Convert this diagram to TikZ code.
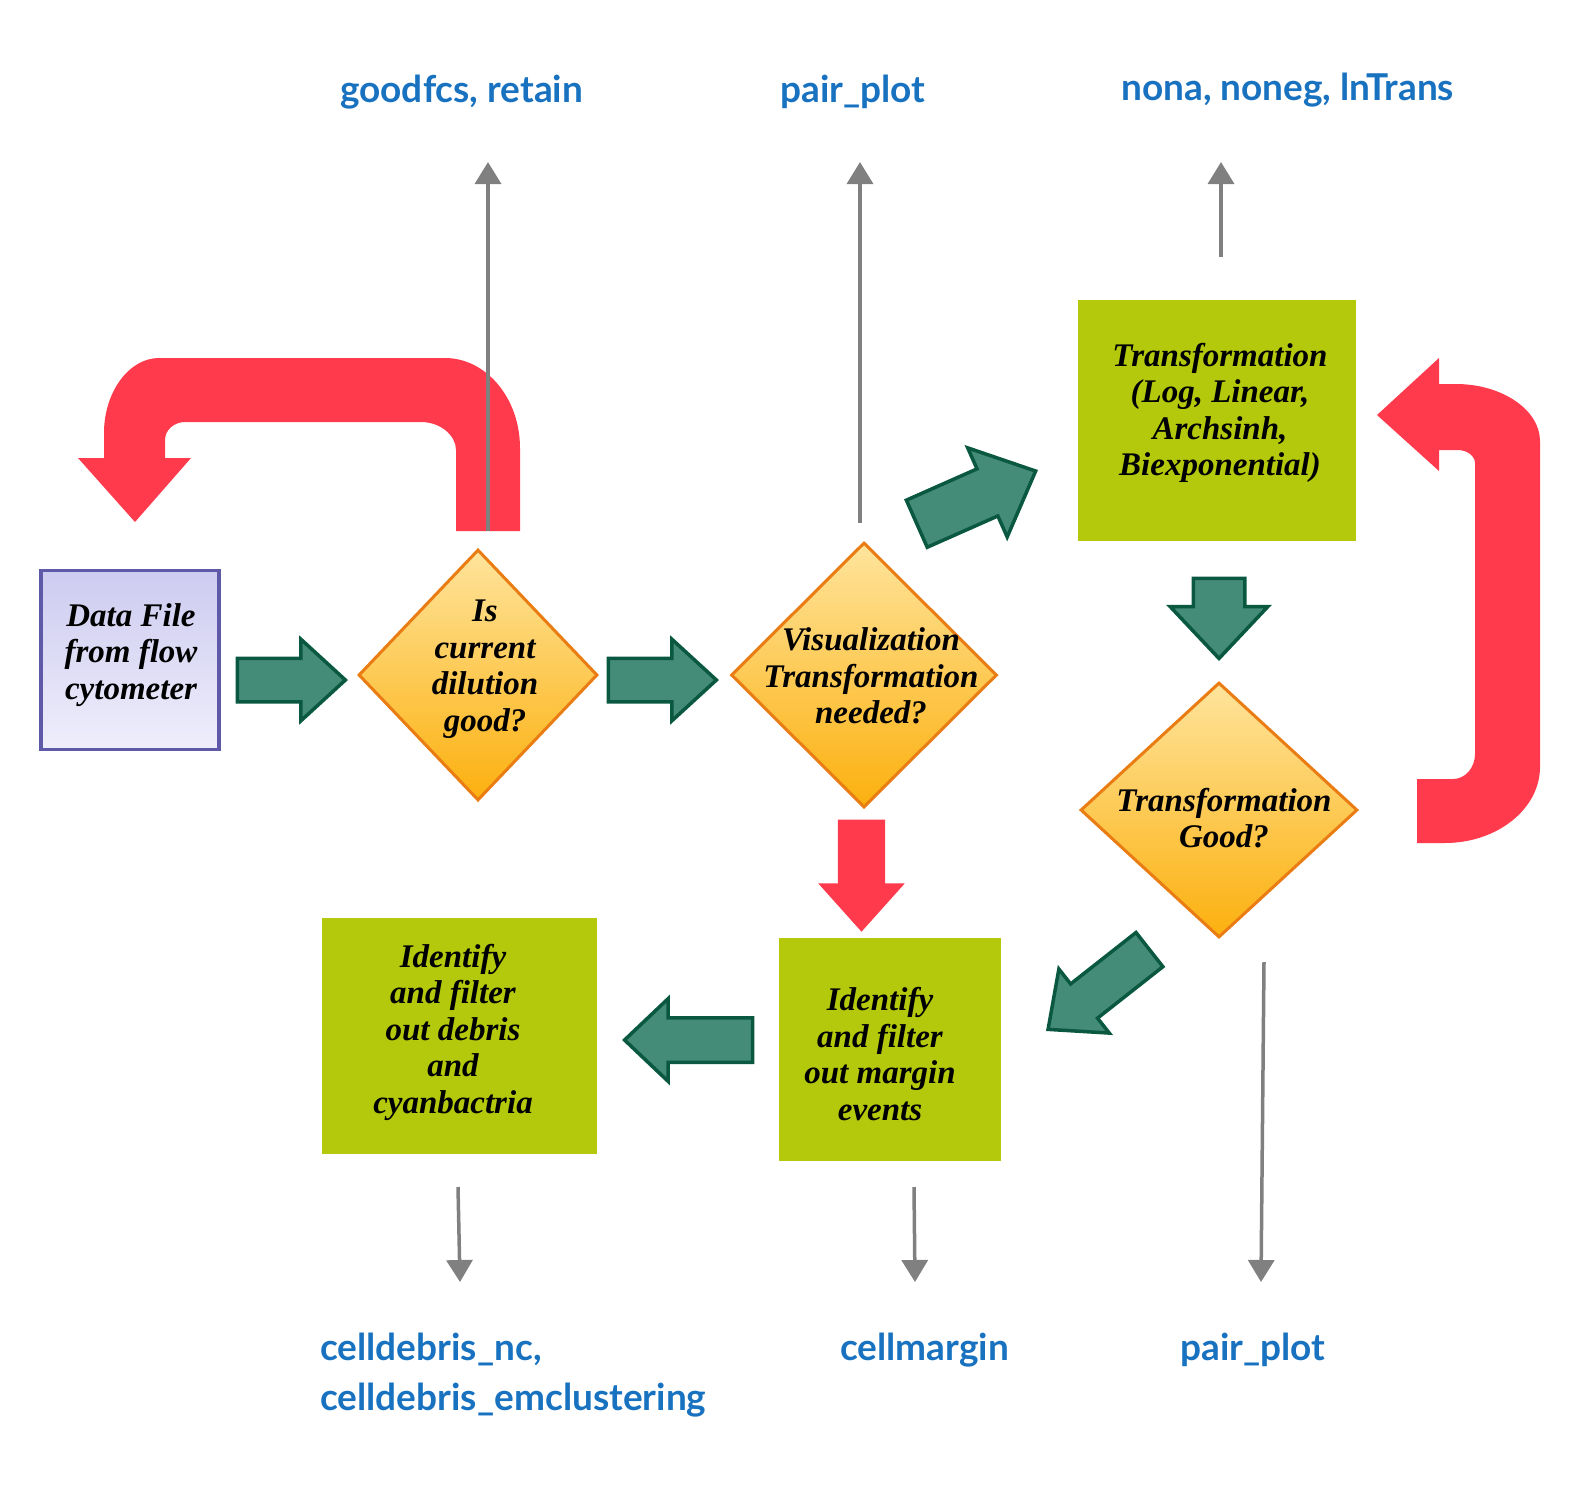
\documentclass[tikz,border=0pt]{standalone}
\usepackage{fontspec}
\newfontfamily\boxfont{Liberation Serif}
\newfontfamily\labelfont{Lato}
\usetikzlibrary{shapes.geometric,shapes.arrows,arrows.meta}
\definecolor{DataLine}{RGB}{94,90,168}
\definecolor{DataTop}{RGB}{205,203,240}
\definecolor{DataBot}{RGB}{239,238,251}
\definecolor{DecLine}{RGB}{234,124,20}
\definecolor{DecTop}{RGB}{254,228,156}
\definecolor{DecBot}{RGB}{252,176,14}
\definecolor{BoxClr}{RGB}{180,201,12}
\definecolor{ArrFill}{RGB}{68,140,120}
\definecolor{ArrLine}{RGB}{10,88,64}
\definecolor{RedClr}{RGB}{255,58,76}
\definecolor{GrayClr}{RGB}{128,128,128}
\definecolor{LblClr}{RGB}{24,114,192}

\begin{document}
\begin{tikzpicture}[x=1pt,y=-1pt,
  boxtext/.style={align=center,inner sep=0,font=\boxfont\bfseries\itshape\fontsize{33}{36.5}\selectfont},
  outlbl/.style={anchor=base west,align=left,inner sep=0,text=LblClr,font=\labelfont\bfseries\fontsize{37}{50}\selectfont},
  greenbox/.style={rectangle,fill=BoxClr,inner sep=0},
  decision/.style={diamond,draw=DecLine,line width=3pt,top color=DecTop,bottom color=DecBot,inner sep=0},
  garrow/.style={single arrow,draw=ArrLine,fill=ArrFill,line width=3.5pt,inner xsep=0,single arrow head indent=0,anchor=tip},
  rarrow/.style={single arrow,fill=RedClr,inner xsep=0,single arrow head indent=0,anchor=tip},
  gline/.style={draw=GrayClr,line width=3.5pt,-{Triangle[width=26pt,length=22pt]}}]
\useasboundingbox (0,0) rectangle (1580,1484);

% red loop arrows (drawn first, gray lines run over them)
\fill[RedClr] (456,531) -- (520,531) -- (520,448) .. controls (520,398) and (486,358) .. (445,358)
  -- (159,358) .. controls (129,358) and (104,392) .. (104,433) -- (104,458) -- (78,458) -- (135,522)
  -- (191,458) -- (165,458) -- (165,440) .. controls (165,430) and (174,422) .. (185,422)
  -- (421,422) .. controls (440,422) and (456,435) .. (456,450) -- cycle;
\fill[RedClr] (1417,779) -- (1453,779) .. controls (1465,779) and (1475,768) .. (1475,754)
  -- (1475,463) .. controls (1475,456) and (1467,450) .. (1458,450) -- (1439,450) -- (1439,471)
  -- (1377,415) -- (1439,358) -- (1439,384) -- (1456,384) .. controls (1502,384) and (1540,410) .. (1540,441)
  -- (1540,767) .. controls (1540,809) and (1497,843) .. (1445,843) -- (1417,843) -- cycle;

% boxes and decisions
\node[rectangle,draw=DataLine,line width=3.5pt,top color=DataTop,bottom color=DataBot,
  minimum width=178,minimum height=179] (datafile) at (130,660) {};
\node[decision,minimum width=239,minimum height=251] (dilution) at (478,675) {};
\node[decision,minimum width=266,minimum height=265] (visual) at (864,675) {};
\node[greenbox,minimum width=278,minimum height=241] (trans) at (1217,420.5) {};
\node[decision,minimum width=277,minimum height=255] (transgood) at (1219,810) {};
\node[greenbox,minimum width=222,minimum height=223] (margin) at (890,1049.5) {};
\node[greenbox,minimum width=275,minimum height=236] (debris) at (459.5,1036) {};

\node[boxtext] (datafiletxt) at (131,655) {Data File\\from flow\\cytometer};
\node[boxtext] (dilutiontxt) at (485,669) {Is\\current\\dilution\\good?};
\node[boxtext] (visualtxt) at (871,676) {Visualization\\Transformation\\needed?};
\node[boxtext] (transtxt) at (1220,413) {Transformation\\(Log, Linear,\\Archsinh,\\Biexponential)};
\node[boxtext] (transgoodtxt) at (1224,818) {Transformation\\Good?};
\node[boxtext] (margintxt) at (880,1054) {Identify\\and filter\\out margin\\events};
\node[boxtext] (debristxt) at (453,1032) {Identify\\and filter\\out debris\\and\\cyanbactria};

% block arrows, placed by their tips (inner ysep = half the shaft)
\node[garrow,inner ysep=20,minimum height=108,minimum width=79,single arrow head extend=19,single arrow tip angle=85] (arA) at (348,680) {};
\node[garrow,inner ysep=20,minimum height=108,minimum width=79,single arrow head extend=19,single arrow tip angle=85] (arB) at (719,680) {};
\node[garrow,inner ysep=24,minimum height=130,minimum width=95,single arrow head extend=23,single arrow tip angle=85.5,rotate=23.9] (arC) at (1038,470) {};
\node[garrow,inner ysep=24,minimum height=80,minimum width=95,single arrow head extend=23,single arrow tip angle=86.6,rotate=-90] (arD) at (1219,661) {};
\node[garrow,inner ysep=20,minimum height=129,minimum width=78,single arrow head extend=19,single arrow tip angle=83.3,rotate=218.2] (arE) at (1046,1031) {};
\node[garrow,inner ysep=20.5,minimum height=128,minimum width=79,single arrow head extend=19,single arrow tip angle=87,rotate=180] (arF) at (622,1040) {};
\node[rarrow,inner ysep=23.5,minimum height=112,minimum width=86,single arrow head extend=19.5,single arrow tip angle=83.7,rotate=-90] (arR) at (861.5,932) {};

% output labels
\node[outlbl] (lblgood) at (340,102) {goodfcs, retain};
\node[outlbl] (lblpairtop) at (780,102) {pair\_plot};
\node[outlbl] (lblnona) at (1121,100) {nona, noneg, lnTrans};
\node[outlbl] (lbldebris) at (320,1410) {celldebris\_nc,\\celldebris\_emclustering};
\node[outlbl] (lblmargin) at (840,1360) {cellmargin};
\node[outlbl] (lblpairbot) at (1180,1360) {pair\_plot};

% gray output connectors
\coordinate (dilout) at (488,531);   \coordinate (dilend) at (488,162);
\coordinate (visout) at (860,523);   \coordinate (visend) at (860,162);
\coordinate (trout) at (1221,257);   \coordinate (trend) at (1221,162);
\coordinate (debout) at (458,1187);  \coordinate (debend) at (460,1282);
\coordinate (marout) at (914,1187);  \coordinate (marend) at (915,1282);
\coordinate (goodout) at (1264,962); \coordinate (goodend) at (1261,1282);
\draw[gline] (dilout) -- (dilend);
\draw[gline] (visout) -- (visend);
\draw[gline] (trout) -- (trend);
\draw[gline] (debout) -- (debend);
\draw[gline] (marout) -- (marend);
\draw[gline] (goodout) -- (goodend);

\end{tikzpicture}
\end{document}
